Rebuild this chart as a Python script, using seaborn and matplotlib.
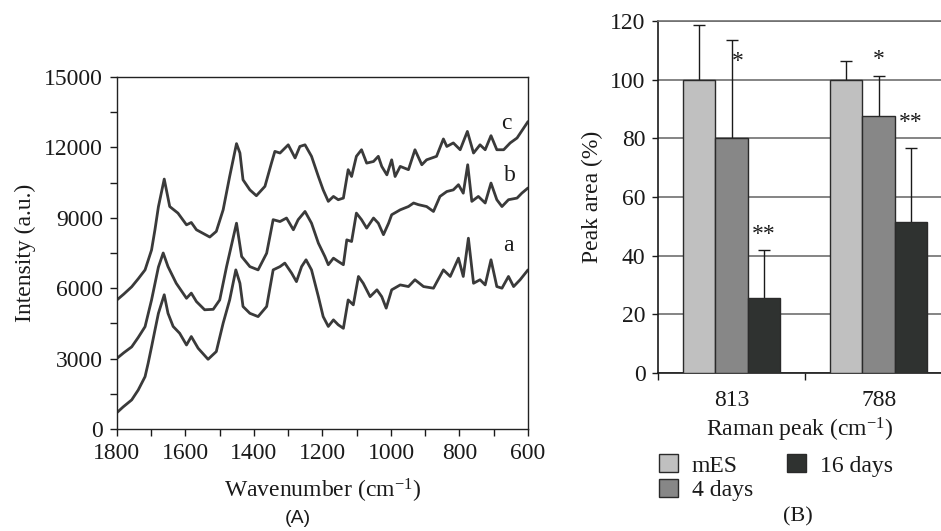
import numpy as np
import pandas as pd
import matplotlib
matplotlib.use("Agg")
import matplotlib.pyplot as plt
import seaborn as sns
from matplotlib.ticker import MultipleLocator

# --- Panel A: Raman spectra ---
a_wn = [1800, 1782, 1757, 1738, 1718, 1709, 1699, 1689, 1679, 1662, 1651, 1636, 1617, 1597, 1583,
        1563, 1534, 1510, 1490, 1471, 1453, 1441, 1432, 1412, 1388, 1363, 1344, 1324, 1310, 1290,
        1276, 1261, 1248, 1232, 1212, 1198, 1183, 1168, 1154, 1139, 1125, 1110, 1095, 1081, 1061,
        1041, 1027, 1014, 998, 973, 949, 930, 905, 876, 847, 827, 803, 789, 774, 759,
        740, 725, 708, 691, 676, 657, 642, 623, 600]
a_int = [700, 940, 1240, 1660, 2230, 2800, 3500, 4220, 4930, 5720, 4930, 4370, 4080, 3580, 3940,
         3440, 2970, 3300, 4510, 5500, 6780, 6210, 5220, 4930, 4790, 5220, 6780, 6920, 7070, 6640,
         6280, 6920, 7210, 6780, 5640, 4790, 4370, 4650, 4440, 4290, 5500, 5290, 6500, 6210, 5640,
         5930, 5640, 5150, 5930, 6140, 6070, 6360, 6070, 6000, 6780, 6500, 7280, 6500, 8130, 6210,
         6360, 6140, 7210, 6070, 6000, 6500, 6070, 6360, 6780]

b_wn = [1800, 1780, 1757, 1738, 1718, 1699, 1689, 1679, 1665, 1651, 1627, 1597, 1583, 1568, 1544,
        1519, 1500, 1480, 1451, 1436, 1412, 1388, 1363, 1344, 1324, 1305, 1285, 1271, 1251, 1232,
        1212, 1193, 1183, 1168, 1154, 1139, 1129, 1115, 1101, 1086, 1071, 1051, 1037, 1022, 1007,
        998, 973, 949, 934, 920, 896, 876, 857, 837, 818, 803, 789, 776, 764, 745,
        725, 708, 691, 676, 657, 632, 618, 600]
b_int = [3010, 3250, 3500, 3900, 4360, 5500, 6200, 6900, 7500, 6920, 6210, 5570, 5790, 5430, 5080,
         5100, 5500, 6920, 8770, 7350, 6920, 6780, 7490, 8920, 8840, 8990, 8490, 8920, 9270, 8770,
         7920, 7350, 7000, 7280, 7140, 7000, 8060, 7990, 9200, 8920, 8560, 8990, 8770, 8280, 8770,
         9130, 9340, 9480, 9630, 9560, 9480, 9270, 9910, 10120, 10190, 10410, 10050, 11260, 9700, 9910,
         9630, 10480, 9770, 9480, 9770, 9840, 10050, 10270]

c_wn = [1800, 1780, 1757, 1738, 1718, 1699, 1689, 1679, 1662, 1646, 1622, 1597, 1583, 1568, 1529,
        1510, 1490, 1471, 1451, 1441, 1432, 1412, 1393, 1368, 1349, 1339, 1324, 1300, 1280, 1266,
        1251, 1232, 1212, 1198, 1183, 1168, 1154, 1139, 1125, 1115, 1101, 1086, 1071, 1051, 1037,
        1027, 1012, 998, 988, 973, 949, 930, 910, 896, 867, 847, 837, 818, 798, 777,
        759, 740, 725, 708, 691, 671, 652, 632, 600]
c_int = [5500, 5750, 6060, 6400, 6780, 7630, 8500, 9470, 10650, 9480, 9200, 8700, 8800, 8490, 8180,
         8420, 9340, 10760, 12160, 11760, 10620, 10190, 9940, 10340, 11330, 11830, 11760, 12110, 11550, 12040,
         12110, 11620, 10760, 10190, 9700, 9910, 9770, 9840, 11050, 10760, 11620, 11900, 11330, 11400, 11620,
         11190, 10830, 11470, 10760, 11190, 11050, 11900, 11260, 11470, 11620, 12360, 12040, 12190, 11900, 12680,
         11760, 12110, 11900, 12500, 11900, 11900, 12190, 12400, 13100]

curve_labels = ["a", "b", "c"]
curve_label_wn = [657, 652, 662]
curve_label_int = [7800, 10800, 13000]

# --- Panel B: peak areas ---
peaks = ["813", "788"]
groups = ["mES", "4 days", "16 days"]
mes_area = [100, 100]
d4_area = [80, 87.6]
d16_area = [25.6, 51.5]
mes_err = [18.7, 6.4]
d4_err = [33.4, 13.6]
d16_err = [16.4, 25.2]
stars = {("813", "4 days"): ("*", 106.3), ("813", "16 days"): ("**", 47.3),
         ("788", "4 days"): ("*", 106.9), ("788", "16 days"): ("**", 85.3)}

BAR_COLORS = ["#c0c0c0", "#878787", "#2f3230"]
LINE_COLOR = "#3a3a3a"

sns.set_theme(style="ticks")
plt.rcParams["font.family"] = ["Liberation Serif", "DejaVu Serif"]
plt.rcParams["mathtext.fontset"] = "custom"
plt.rcParams["mathtext.rm"] = "Liberation Serif"
plt.rcParams["mathtext.it"] = "Liberation Serif:italic"
plt.rcParams["text.color"] = "#1a1a1a"
plt.rcParams["axes.labelcolor"] = "#1a1a1a"
plt.rcParams["xtick.color"] = "#1a1a1a"
plt.rcParams["ytick.color"] = "#1a1a1a"

FS = 17

fig = plt.figure(figsize=(9.41, 5.31), dpi=100)

# ---------------- Panel A ----------------
ax1 = fig.add_axes([0.1243, 0.1921, 0.4368, 0.6629])
spec = pd.concat([
    pd.DataFrame({"wn": a_wn, "intensity": a_int, "sample": "a"}),
    pd.DataFrame({"wn": b_wn, "intensity": b_int, "sample": "b"}),
    pd.DataFrame({"wn": c_wn, "intensity": c_int, "sample": "c"}),
], ignore_index=True)
sns.lineplot(data=spec, x="wn", y="intensity", hue="sample",
             palette={k: LINE_COLOR for k in curve_labels},
             estimator=None, sort=False, linewidth=2, legend=False, ax=ax1)
for lab, x, y in zip(curve_labels, curve_label_wn, curve_label_int):
    ax1.text(x, y, lab, fontsize=FS, ha="center", va="center")

ax1.set_xlim(1800, 600)
ax1.set_ylim(0, 15000)
ax1.xaxis.set_major_locator(MultipleLocator(200))
ax1.xaxis.set_minor_locator(MultipleLocator(100))
ax1.yaxis.set_major_locator(MultipleLocator(3000))
ax1.yaxis.set_minor_locator(MultipleLocator(1500))
ax1.tick_params(which="both", direction="out", length=5, width=1, labelsize=FS, pad=5)
for s in ax1.spines.values():
    s.set_color("#222222")
    s.set_linewidth(1)
ax1.set_xlabel("Wavenumber (cm$^{-1}$)", fontsize=FS, labelpad=9)
ax1.set_ylabel("Intensity (a.u.)", fontsize=FS, labelpad=6)

# ---------------- Panel B ----------------
ax2 = fig.add_axes([0.6993, 0.2976, 0.3007, 0.6629])
bars = pd.DataFrame({
    "peak": peaks * 3,
    "group": np.repeat(groups, len(peaks)),
    "area": mes_area + d4_area + d16_area,
    "err": mes_err + d4_err + d16_err,
})
sns.barplot(data=bars, x="peak", y="area", hue="group", order=peaks, hue_order=groups,
            palette=BAR_COLORS, saturation=1, width=0.66, gap=0, errorbar=None,
            edgecolor="#2a2a2a", linewidth=1, zorder=3, ax=ax2)

# error bars and significance marks, placed on the drawn bars
bar_patches = [p for p in ax2.patches][:len(bars)]
for i, p in enumerate(bar_patches):
    g = groups[i // len(peaks)]
    pk = peaks[i % len(peaks)]
    row = bars[(bars.group == g) & (bars.peak == pk)].iloc[0]
    xc = p.get_x() + p.get_width() / 2
    ax2.errorbar(xc, row.area, yerr=row.err, fmt="none", ecolor="#1a1a1a",
                 elinewidth=1, capsize=4, capthick=1, zorder=2)
    if (pk, g) in stars:
        txt, ys = stars[(pk, g)]
        dx = 0.045 if txt == "*" and pk == "813" else 0
        ax2.text(xc + dx, ys, txt, fontsize=FS, ha="center", va="center", zorder=4)

handles, labels = ax2.get_legend_handles_labels()
ax2.legend_.remove()

ax2.set_xlim(-0.5, 1.424)
ax2.set_ylim(0, 120)
ax2.yaxis.set_major_locator(MultipleLocator(20))
ax2.yaxis.grid(True, color="#707070", linewidth=1.2)
ax2.set_axisbelow(True)
ax2.set_xticks([0, 1])
ax2.set_xticklabels(peaks)
ax2.set_xticks([-0.5, 0.5], minor=True)
ax2.tick_params(axis="x", which="major", length=0, labelsize=FS, pad=12)
ax2.tick_params(axis="x", which="minor", direction="out", length=5, width=1)
ax2.tick_params(axis="y", direction="out", length=4, width=1, labelsize=FS, pad=5)
ax2.spines["right"].set_visible(False)
ax2.spines["top"].set_color("#707070")
ax2.spines["top"].set_linewidth(1.2)
for side in ["left", "bottom"]:
    ax2.spines[side].set_color("#1a1a1a")
    ax2.spines[side].set_linewidth(1.2)
ax2.set_xlabel("Raman peak (cm$^{-1}$)", fontsize=FS, labelpad=4)
ax2.set_ylabel("Peak area (%)", fontsize=FS, labelpad=5)

fig.legend(handles, labels, ncol=2, loc="upper left", bbox_to_anchor=(0.690, 0.162),
           frameon=False, fontsize=17, handlelength=0.8, handleheight=0.8,
           labelspacing=0.1, columnspacing=1.45, handletextpad=0.6, borderaxespad=0)

fig.text(0.316, 0.024, "(A)", fontsize=14, family="Liberation Sans", ha="center", va="center")
fig.text(0.848, 0.026, "(B)", fontsize=16, ha="center", va="center")

fig.savefig("out.png", dpi=100)
